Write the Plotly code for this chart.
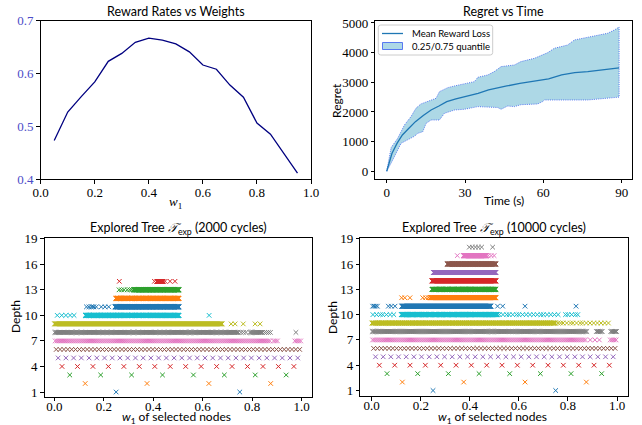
import numpy as np
import plotly.graph_objects as go

W, H = 642, 425

# ---------------- Panel 1: reward rate vs weight ----------------
weights = [0.05, 0.10, 0.15, 0.20, 0.25, 0.30, 0.35, 0.40, 0.45, 0.50,
           0.55, 0.60, 0.65, 0.70, 0.75, 0.80, 0.85, 0.90, 0.95]
reward_rates = [0.473, 0.527, 0.556, 0.584, 0.623, 0.638, 0.659, 0.667, 0.663, 0.656,
                0.641, 0.616, 0.608, 0.578, 0.555, 0.506, 0.485, 0.449, 0.411]

# ---------------- Panel 2: regret vs time ----------------
time_mean = [0, 2, 4, 6, 8.5, 11, 14, 17, 20, 23, 26.5, 30, 35, 39, 42.5, 46, 51, 57, 62, 67, 72, 77, 83, 89]
regret_mean = [0, 600, 950, 1225, 1450, 1674, 1880, 2067, 2200, 2348, 2440, 2517, 2629, 2742, 2798, 2876,
               2966, 3056, 3112, 3247, 3326, 3360, 3416, 3485]
time_q75 = [0, 1.7, 4.2, 6.8, 9.3, 11.2, 13.1, 15.7, 18.9, 20.2, 23.4, 25.9, 30, 33.6, 34.9, 38.7,
            41.2, 43.8, 48.9, 51.4, 56.6, 61.7, 64.2, 69.3, 71.9, 79.5, 84.6, 87.2, 89]
regret_q75 = [0, 800, 1112, 1562, 1843, 2124, 2270, 2348, 2460, 2685, 2820, 2876, 2966, 3022, 3168, 3247,
              3360, 3528, 3584, 3697, 3809, 4000, 4146, 4258, 4427, 4562, 4652, 4764, 4860]
time_q25 = [0, 2.3, 5.5, 8, 10.6, 11.9, 13.8, 15.1, 17, 20.2, 22.1, 26, 29.7, 34.9, 42.5, 43.8, 46.3,
            48.9, 51.4, 57.8, 59.7, 60.4, 77, 84.6, 89]
regret_q25 = [0, 380, 944, 1060, 1180, 1280, 1335, 1617, 1730, 1730, 1955, 2067, 2090, 2180, 2150, 2090,
              2200, 2180, 2245, 2270, 2350, 2404, 2404, 2460, 2500]
legend_labels = ['Mean Reward Loss', '0.25/0.75 quantile']

# ---------------- Panels 3/4: explored tree nodes ----------------
# fully explored w1 ranges per depth: (depth, lo, hi)
tree2000_ranges = [(1, 0, 1), (2, 0, 1), (3, 0, 1), (4, 0, 1), (5, 0, 1), (6, 0, 1),
                   (7, 0, 0.875), (7, 0.885, 0.905), (7, 0.965, 1.0),
                   (8, 0, 0.745), (8, 0.79, 0.845),
                   (9, 0, 0.68),
                   (10, 0.125, 0.505),
                   (11, 0.245, 0.505),
                   (12, 0.248, 0.505),
                   (13, 0.32, 0.505),
                   (14, 0.414, 0.44)]
# isolated explored nodes: (depth, w1)
tree2000_points = [(8, 0.755), (8, 0.765), (8, 0.775), (8, 0.85), (8, 0.858), (8, 0.866), (8, 0.874), (8, 0.977),
                   (9, 0.715), (9, 0.731), (9, 0.764), (9, 0.812), (9, 0.832),
                   (10, 0.012), (10, 0.030), (10, 0.047), (10, 0.064), (10, 0.080), (10, 0.626),
                   (11, 0.13), (11, 0.14), (11, 0.15), (11, 0.155), (11, 0.16), (11, 0.17), (11, 0.19), (11, 0.205),
                   (11, 0.22),
                   (13, 0.262), (13, 0.272), (13, 0.282), (13, 0.295), (13, 0.305), (13, 0.313),
                   (14, 0.263), (14, 0.405), (14, 0.448), (14, 0.468), (14, 0.488)]

tree10000_ranges = [(1, 0, 1), (2, 0, 1), (3, 0, 1), (4, 0, 1), (5, 0, 1), (6, 0, 1),
                    (7, 0, 0.874), (7, 0.965, 1.0),
                    (8, 0, 0.88), (8, 0.915, 0.94), (8, 0.973, 1.0),
                    (9, 0, 0.75),
                    (10, 0.12, 0.513),
                    (11, 0.122, 0.486),
                    (12, 0.238, 0.507),
                    (13, 0.245, 0.507),
                    (14, 0.245, 0.507),
                    (15, 0.251, 0.507),
                    (16, 0.308, 0.507),
                    (17, 0.373, 0.469)]
tree10000_points = [(7, 0.891), (7, 0.91), (7, 0.928),
                    (9, 0.76), (9, 0.77), (9, 0.78), (9, 0.795), (9, 0.81), (9, 0.82), (9, 0.835), (9, 0.85),
                    (9, 0.86), (9, 0.875), (9, 0.89), (9, 0.905), (9, 0.92), (9, 0.935), (9, 0.95), (9, 0.965),
                    (10, 0.005), (10, 0.02), (10, 0.035), (10, 0.045), (10, 0.06), (10, 0.075), (10, 0.09),
                    (10, 0.52), (10, 0.535), (10, 0.55), (10, 0.56), (10, 0.575), (10, 0.59), (10, 0.6),
                    (10, 0.615), (10, 0.63), (10, 0.645), (10, 0.66), (10, 0.675), (10, 0.69), (10, 0.7),
                    (10, 0.715), (10, 0.73), (10, 0.745), (10, 0.76), (10, 0.79), (10, 0.80), (10, 0.815),
                    (10, 0.83), (10, 0.84),
                    (11, 0.004), (11, 0.01), (11, 0.016), (11, 0.023), (11, 0.068), (11, 0.08), (11, 0.095),
                    (11, 0.513), (11, 0.534), (11, 0.625), (11, 0.833),
                    (12, 0.122), (12, 0.135), (12, 0.156), (12, 0.208), (12, 0.22), (12, 0.231),
                    (17, 0.349), (17, 0.475), (17, 0.487), (17, 0.499),
                    (18, 0.398), (18, 0.41), (18, 0.423), (18, 0.435), (18, 0.448), (18, 0.493)]

TAB10 = ['#1f77b4', '#ff7f0e', '#2ca02c', '#d62728', '#9467bd',
         '#8c564b', '#e377c2', '#7f7f7f', '#bcbd22', '#17becf']

SANS = "Lato"
SERIF = "Liberation Serif"
BAND_FILL = '#add8e6'
BAND_EDGE = '#4a6cf0'
MEAN_COLOR = '#1f77b4'


def px_x(v):
    return v / W


def px_y(v):
    return 1 - v / H


def dom_x(a, b):
    return [a / W, b / W]


def dom_y(top, bottom):
    return [1 - bottom / H, 1 - top / H]


def node_positions(depth, lo, hi):
    m = min(depth, 10)  # drawing resolution
    xs = (2 * np.arange(2 ** m) + 1) / 2 ** (m + 1)
    return xs[(xs >= lo - 1e-9) & (xs <= hi + 1e-9)]


fig = go.Figure()

# Panel 1
fig.add_trace(go.Scatter(x=weights, y=reward_rates, mode='lines',
                         line=dict(color='#000080', width=1.3), showlegend=False,
                         xaxis='x', yaxis='y'))

# Panel 2
poly_x = list(time_q75) + list(reversed(time_q25))
poly_y = list(regret_q75) + list(reversed(regret_q25))
fig.add_trace(go.Scatter(x=poly_x, y=poly_y, mode='lines', fill='toself',
                         fillcolor=BAND_FILL, line=dict(color=BAND_EDGE, width=0.9, dash='1px,1.2px'),
                         name=legend_labels[1], showlegend=False, xaxis='x2', yaxis='y2'))
fig.add_trace(go.Scatter(x=time_mean, y=regret_mean, mode='lines',
                         line=dict(color=MEAN_COLOR, width=1.3),
                         name=legend_labels[0], showlegend=False, xaxis='x2', yaxis='y2'))

# Panels 3 / 4
for ranges, points, xa, ya in [(tree2000_ranges, tree2000_points, 'x3', 'y3'),
                               (tree10000_ranges, tree10000_points, 'x4', 'y4')]:
    depths = sorted(set([r[0] for r in ranges] + [p[0] for p in points]))
    for d in depths:
        xs = []
        for (dd, lo, hi) in ranges:
            if dd == d:
                xs.extend(node_positions(d, lo, hi).tolist())
        for (dd, x) in points:
            if dd == d:
                xs.append(x)
        fig.add_trace(go.Scatter(x=xs, y=[d] * len(xs), mode='markers',
                                 marker=dict(symbol='x-thin', size=4.6,
                                             line=dict(width=1, color=TAB10[(d - 1) % 10]),
                                             color=TAB10[(d - 1) % 10]),
                                 showlegend=False, xaxis=xa, yaxis=ya, hoverinfo='skip'))


def axis(color='black', size=13, standoff=0):
    return dict(showline=True, mirror=True, linecolor='black', linewidth=1,
                ticks='outside', ticklen=3.5, tickwidth=1, tickcolor='black', automargin=False,
                showgrid=False, zeroline=False, ticklabelstandoff=standoff,
                tickfont=dict(family=SERIF, size=size, color=color))


tick01 = dict(tickvals=[0, 0.2, 0.4, 0.6, 0.8, 1.0], ticktext=['0.0', '0.2', '0.4', '0.6', '0.8', '1.0'])

fig.update_layout(
    width=W, height=H, margin=dict(l=0, r=0, t=0, b=0, pad=0, autoexpand=False),
    autosize=False, showlegend=False,
    paper_bgcolor='white', plot_bgcolor='white',
    xaxis=dict(axis(standoff=-2), domain=dom_x(40.7, 311), range=[0, 1], anchor='y', **tick01),
    yaxis=dict(axis('#4c4cc8'), domain=dom_y(20.7, 179), range=[0.4, 0.7], anchor='x',
               tickvals=[0.4, 0.5, 0.6, 0.7], ticktext=['0.4', '0.5', '0.6', '0.7']),
    xaxis2=dict(axis(standoff=-2), domain=dom_x(375.3, 631.7), range=[-4.37, 93.83], anchor='y2',
                tickvals=[0, 30, 60, 90]),
    yaxis2=dict(axis(), domain=dom_y(20.7, 178.5), range=[-243, 5076], anchor='x2',
                tickvals=[0, 1000, 2000, 3000, 4000, 5000]),
    xaxis3=dict(axis(standoff=-6), domain=dom_x(44.7, 312), range=[-0.0388, 1.042], anchor='y3', **tick01),
    yaxis3=dict(axis(), domain=dom_y(238.3, 396.7), range=[0.45, 19.05], anchor='x3',
                tickvals=[1, 4, 7, 10, 13, 16, 19]),
    xaxis4=dict(axis(standoff=-6), domain=dom_x(360.3, 628.3), range=[-0.0465, 1.046], anchor='y4', **tick01),
    yaxis4=dict(axis(), domain=dom_y(238.3, 396), range=[0.35, 19.05], anchor='x4',
                tickvals=[1, 4, 7, 10, 13, 16, 19]),
)

# ---- legend of the regret panel, drawn as a framed box ----
shapes = []
bx0, bx1, by0, by1, r = 378.3, 492.7, 25, 55, 2.5
path = (f"M {px_x(bx0 + r)} {px_y(by0)} L {px_x(bx1 - r)} {px_y(by0)} "
        f"Q {px_x(bx1)} {px_y(by0)} {px_x(bx1)} {px_y(by0 + r)} L {px_x(bx1)} {px_y(by1 - r)} "
        f"Q {px_x(bx1)} {px_y(by1)} {px_x(bx1 - r)} {px_y(by1)} L {px_x(bx0 + r)} {px_y(by1)} "
        f"Q {px_x(bx0)} {px_y(by1)} {px_x(bx0)} {px_y(by1 - r)} L {px_x(bx0)} {px_y(by0 + r)} "
        f"Q {px_x(bx0)} {px_y(by0)} {px_x(bx0 + r)} {px_y(by0)} Z")
shapes.append(dict(type='path', path=path, xref='paper', yref='paper',
                   line=dict(color='#cccccc', width=1), fillcolor='rgba(255,255,255,0.8)'))
shapes.append(dict(type='line', xref='paper', yref='paper', x0=px_x(382), x1=px_x(403),
                   y0=px_y(33.5), y1=px_y(33.5), line=dict(color=MEAN_COLOR, width=1.3)))
shapes.append(dict(type='rect', xref='paper', yref='paper', x0=px_x(382.5), x1=px_x(402.5),
                   y0=px_y(42.5), y1=px_y(49.5), fillcolor=BAND_FILL,
                   line=dict(color=BAND_EDGE, width=0.9)))
fig.update_layout(shapes=shapes)

ann = []


def text(x, y, s, size=12, family=SANS, angle=0, xanchor='center'):
    ann.append(dict(x=x / W, y=1 - y / H, xref='paper', yref='paper', text=s, showarrow=False,
                    font=dict(family=family, size=size, color='black'), textangle=angle,
                    xanchor=xanchor, yanchor='middle'))


text(175.9, 12, 'Reward Rates vs Weights', 12.5)
text(503.5, 12, 'Regret vs Time', 12.5)
text(178.3, 228, 'Explored Tree <i>𝒯</i><sub>exp</sub> (2000 cycles)', 12.5)
text(494.3, 228, 'Explored Tree <i>𝒯</i><sub>exp</sub> (10000 cycles)', 12.5)
text(175.9, 202, '<i>w</i><sub>1</sub>', 13, SERIF)
text(503.5, 201, 'Time (s)', 12)
text(336, 100, 'Regret', 12, angle=-90)
text(176.5, 417, '<i>w</i><sub>1</sub> of selected nodes', 12)
text(492.5, 417, '<i>w</i><sub>1</sub> of selected nodes', 12)
text(15, 317, 'Depth', 12, angle=-90)
text(332, 317, 'Depth', 12, angle=-90)
text(409.5, 33.5, legend_labels[0], 9.5, xanchor='left')
text(409.5, 46, legend_labels[1], 9.5, xanchor='left')
fig.update_layout(annotations=ann)

fig.write_html("out.html", config={'displayModeBar': False},
               post_script="document.body.style.margin='0';document.body.style.overflow='hidden';")
